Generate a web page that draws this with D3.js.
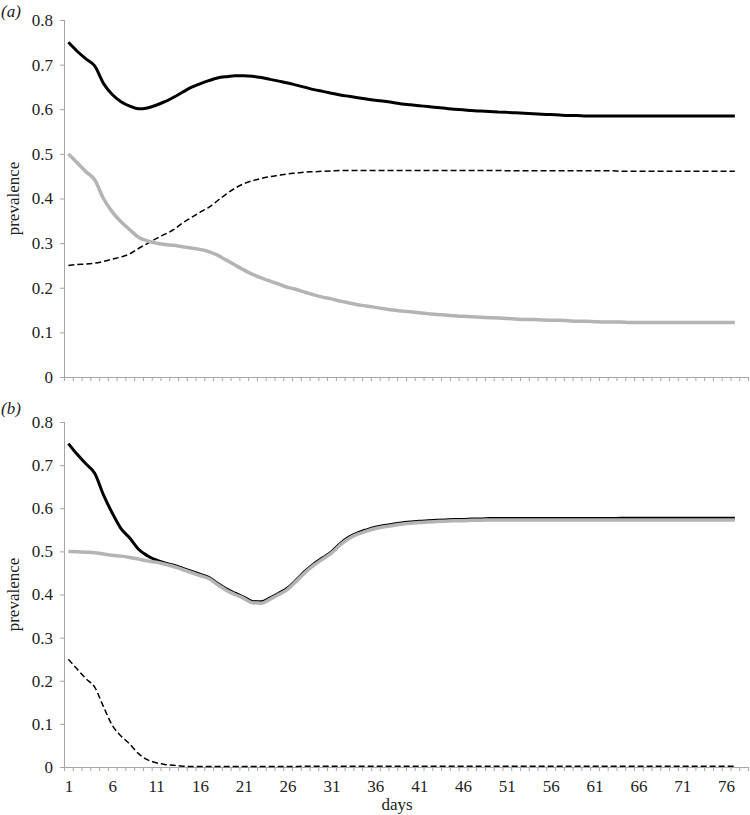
<!DOCTYPE html>
<html><head><meta charset="utf-8">
<script src="https://cdn.jsdelivr.net/npm/d3@7"></script>
<style>body{margin:0;background:#fff}svg{display:block}</style>
</head><body>
<script>
const days = d3.range(1, 78); // 1..77 data points; axis shows 78 categories
const categoryCount = 78;
const xTickLabels = [1, 6, 11, 16, 21, 26, 31, 36, 41, 46, 51, 56, 61, 66, 71, 76];
const yTicks = [0, 0.1, 0.2, 0.3, 0.4, 0.5, 0.6, 0.7, 0.8];

const aBlack = [0.750,0.730,0.713,0.697,0.658,0.633,0.617,0.607,0.601,0.603,0.609,0.617,0.627,0.638,0.649,0.657,0.664,0.670,0.673,0.675,0.675,0.674,0.671,0.667,0.663,0.659,0.654,0.649,0.644,0.640,0.636,0.632,0.629,0.626,0.623,0.620,0.618,0.615,0.612,0.610,0.608,0.606,0.604,0.602,0.600,0.599,0.597,0.596,0.595,0.594,0.593,0.592,0.591,0.590,0.589,0.588,0.587,0.586,0.586,0.585,0.585,0.585,0.585,0.585,0.585,0.585,0.585,0.585,0.585,0.585,0.585,0.585,0.585,0.585,0.585,0.585,0.585];
const aGrey = [0.500,0.480,0.460,0.442,0.400,0.370,0.348,0.330,0.313,0.305,0.300,0.297,0.295,0.292,0.289,0.286,0.281,0.273,0.262,0.251,0.240,0.230,0.222,0.215,0.208,0.201,0.196,0.190,0.184,0.179,0.175,0.170,0.166,0.162,0.159,0.156,0.153,0.150,0.148,0.146,0.144,0.142,0.140,0.139,0.137,0.136,0.135,0.134,0.133,0.132,0.131,0.130,0.129,0.129,0.128,0.127,0.127,0.126,0.125,0.125,0.124,0.123,0.123,0.123,0.122,0.122,0.122,0.122,0.122,0.122,0.122,0.122,0.122,0.122,0.122,0.122,0.122];
const aDashed = [0.250,0.252,0.253,0.255,0.259,0.264,0.269,0.276,0.288,0.299,0.310,0.320,0.330,0.345,0.357,0.369,0.380,0.395,0.410,0.423,0.433,0.440,0.445,0.449,0.452,0.455,0.457,0.459,0.460,0.461,0.462,0.463,0.463,0.463,0.463,0.463,0.463,0.463,0.463,0.463,0.463,0.463,0.463,0.463,0.463,0.463,0.463,0.463,0.463,0.463,0.462,0.462,0.462,0.462,0.462,0.462,0.462,0.462,0.462,0.462,0.462,0.462,0.462,0.461,0.461,0.461,0.461,0.461,0.461,0.461,0.461,0.461,0.461,0.461,0.461,0.461,0.461];

const bBlack = [0.750,0.725,0.703,0.681,0.631,0.589,0.553,0.531,0.505,0.490,0.480,0.473,0.468,0.461,0.454,0.447,0.440,0.426,0.413,0.403,0.394,0.384,0.383,0.392,0.403,0.415,0.434,0.454,0.471,0.485,0.499,0.518,0.533,0.543,0.550,0.556,0.560,0.563,0.566,0.568,0.570,0.571,0.572,0.573,0.574,0.574,0.575,0.575,0.576,0.576,0.576,0.576,0.576,0.576,0.576,0.576,0.576,0.576,0.576,0.576,0.576,0.576,0.576,0.577,0.577,0.577,0.577,0.577,0.577,0.577,0.577,0.577,0.577,0.577,0.577,0.577,0.577];
const bGrey = [0.500,0.499,0.498,0.497,0.494,0.491,0.489,0.486,0.482,0.478,0.475,0.470,0.465,0.458,0.451,0.444,0.437,0.423,0.410,0.400,0.391,0.381,0.380,0.389,0.400,0.412,0.431,0.451,0.468,0.482,0.496,0.515,0.530,0.540,0.547,0.553,0.557,0.560,0.563,0.565,0.567,0.568,0.569,0.570,0.571,0.571,0.572,0.572,0.573,0.573,0.573,0.573,0.573,0.573,0.573,0.573,0.573,0.573,0.573,0.573,0.573,0.573,0.573,0.573,0.573,0.573,0.573,0.573,0.573,0.573,0.573,0.573,0.573,0.573,0.573,0.573,0.573];
const bDashed = [0.250,0.227,0.205,0.185,0.140,0.097,0.072,0.053,0.031,0.017,0.010,0.006,0.004,0.002,0.001,0.001,0.001,0.001,0.001,0.001,0.001,0.001,0.001,0.001,0.001,0.001,0.001,0.002,0.002,0.002,0.002,0.002,0.002,0.002,0.002,0.002,0.002,0.002,0.002,0.002,0.002,0.002,0.002,0.002,0.002,0.002,0.002,0.002,0.002,0.002,0.002,0.002,0.002,0.002,0.002,0.002,0.002,0.002,0.002,0.002,0.002,0.002,0.002,0.002,0.002,0.002,0.002,0.002,0.002,0.002,0.002,0.002,0.002,0.002,0.002,0.002,0.002];

const W = 750, H = 815;
const FONT = "Liberation Serif";
const FS = 17;
const svg = d3.select("body").append("svg").attr("width", W).attr("height", H)
  .attr("font-family", FONT).attr("font-size", FS);

const x = d3.scaleLinear().domain([0.5, categoryCount + 0.5]).range([64, 748]);
const axisColor = "#a6a6a6";

function styleText(sel) {
  sel.attr("font-size", FS).attr("font-family", FONT).attr("fill", "#222");
}

const panels = [
  {label: "(a)", top: 20, bottom: 377, labelY: 17, series: [aDashed, aGrey, aBlack], showX: false},
  {label: "(b)", top: 422, bottom: 767, labelY: 414, series: [bDashed, bBlack, bGrey], showX: true}
];
const styles = {dashed: {stroke: "#000", w: 1.5, dash: "6,3"}, grey: {stroke: "#b4b4b4", w: 3.5, dash: null}, black: {stroke: "#000", w: 3, dash: null}};

panels.forEach((p, i) => {
  const y = d3.scaleLinear().domain([0, 0.8]).range([p.bottom, p.top]);
  const g = svg.append("g");

  const ya = g.append("g").attr("transform", `translate(64,0)`)
    .call(d3.axisLeft(y).tickValues(yTicks).tickSize(4).tickPadding(7).tickFormat(d => d === 0 ? "0" : d3.format(".1f")(d)));
  ya.attr("font-family", FONT).attr("font-size", FS);
  ya.select(".domain").attr("stroke", axisColor).attr("d", `M0.5,${p.top}V${p.bottom}`);
  ya.selectAll(".tick line").attr("stroke", axisColor);
  styleText(ya.selectAll(".tick text"));

  const xa = g.append("g").attr("transform", `translate(0,${p.bottom})`)
    .call(d3.axisBottom(x).tickValues(d3.range(0.5, categoryCount + 1, 1)).tickSize(4).tickFormat(""));
  xa.select(".domain").attr("stroke", axisColor).attr("d", `M64,0.5H748`);
  xa.selectAll(".tick line").attr("stroke", axisColor);

  if (p.showX) {
    const xl = g.append("g").attr("transform", `translate(0,${p.bottom})`)
      .call(d3.axisBottom(x).tickValues(xTickLabels).tickSize(0).tickPadding(13));
    xl.attr("font-family", FONT).attr("font-size", FS);
    xl.select(".domain").remove();
    styleText(xl.selectAll(".tick text"));
    styleText(svg.append("text").attr("x", 397).attr("y", 810).attr("text-anchor", "middle").text("days"));
  }

  styleText(svg.append("text").attr("transform", `translate(19,${(p.top + p.bottom) / 2}) rotate(-90)`)
    .attr("text-anchor", "middle").text("prevalence"));
  styleText(svg.append("text").attr("x", 1).attr("y", p.labelY).attr("font-style", "italic").text(p.label));

  const line = d3.line().x((d, k) => x(days[k])).y(d => y(d)).curve(d3.curveMonotoneX);
  const order = i === 0 ? ["dashed", "grey", "black"] : ["dashed", "black", "grey"];
  p.series.forEach((s, k) => {
    const st = styles[order[k]];
    g.append("path").datum(s).attr("d", line).attr("fill", "none")
      .attr("stroke", st.stroke).attr("stroke-width", st.w)
      .attr("stroke-dasharray", st.dash).attr("stroke-linejoin", "round");
  });
});
</script>
</body></html>
